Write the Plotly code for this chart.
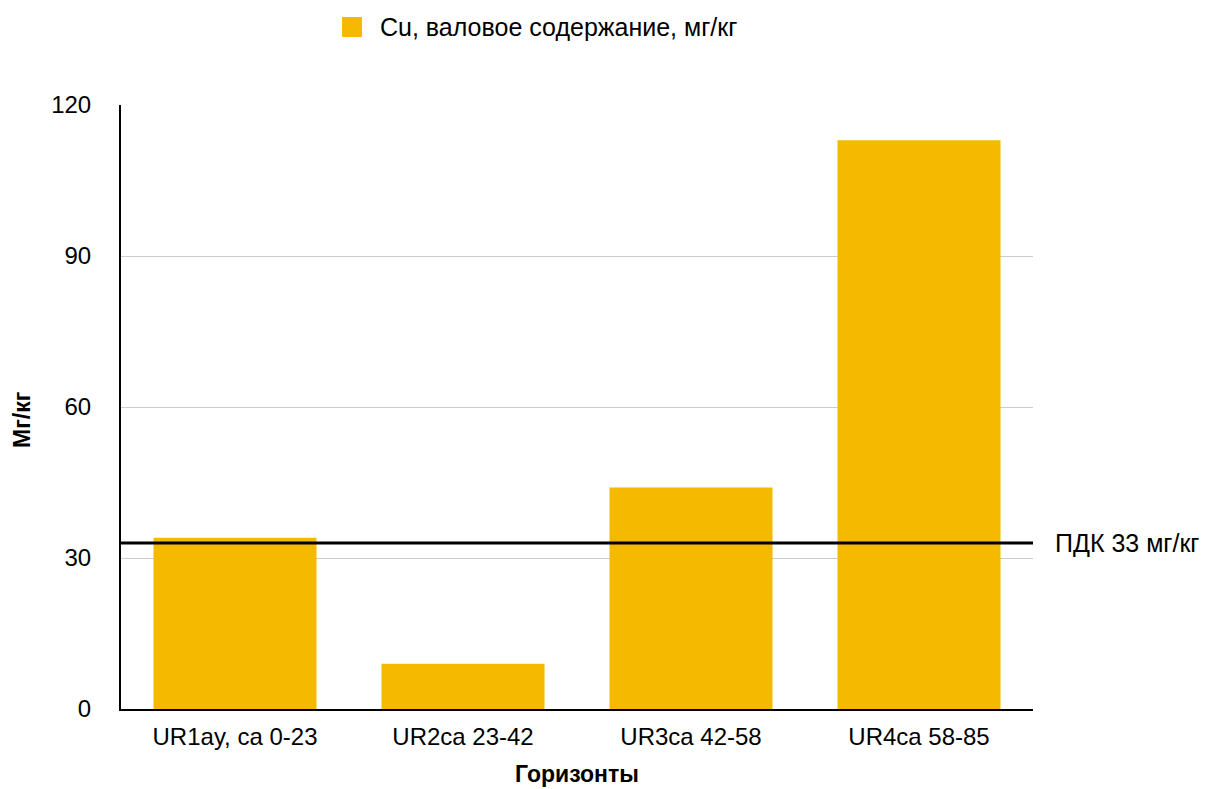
import plotly.graph_objects as go

# Горизонты почвенного профиля и валовое содержание меди
horizons = ["UR1ay, ca 0-23", "UR2ca 23-42", "UR3ca 42-58", "UR4ca 58-85"]
cu_values = [34, 9, 44, 113]
pdk_value = 33
y_ticks = [0, 30, 60, 90, 120]
series_name = "Cu, валовое содержание, мг/кг"
x_title = "Горизонты"
y_title = "Мг/кг"

FONT = "Liberation Sans, Arial, Helvetica, sans-serif"
BAR_COLOR = "#F5BA00"

fig = go.Figure()
fig.add_trace(go.Bar(
    x=horizons,
    y=cu_values,
    name=series_name,
    showlegend=False,
    marker=dict(color=BAR_COLOR, line=dict(width=0)),
))

# Линия ПДК через всю ширину области построения
fig.add_shape(
    type="line", xref="paper", yref="y",
    x0=0, x1=1, y0=pdk_value, y1=pdk_value,
    line=dict(color="black", width=3),
)
fig.add_annotation(
    xref="paper", yref="y", x=1.022, y=pdk_value,
    text=f"ПДК {pdk_value} мг/кг", showarrow=False,
    xanchor="left", yanchor="middle",
    font=dict(family=FONT, size=25, color="black"),
)

# Легенда: цветной квадрат и подпись над графиком
fig.add_shape(
    type="rect", xref="paper", yref="paper",
    x0=0.2423, x1=0.2643, y0=1.1126, y1=1.1457,
    line=dict(width=0), fillcolor=BAR_COLOR,
)
fig.add_annotation(
    xref="paper", yref="paper", x=0.282, y=1.1295,
    text=series_name, showarrow=False,
    xanchor="left", yanchor="middle",
    font=dict(family=FONT, size=25, color="black"),
)

# Подписи осей
fig.add_annotation(
    xref="paper", yref="paper", x=0.5, y=-0.1076,
    text=f"<b>{x_title}</b>", showarrow=False,
    xanchor="center", yanchor="middle",
    font=dict(family=FONT, size=23, color="black"),
)
fig.add_annotation(
    xref="paper", yref="paper", x=-0.1086, y=0.4785,
    text=f"<b>{y_title}</b>", showarrow=False, textangle=-90,
    xanchor="center", yanchor="middle",
    font=dict(family=FONT, size=23, color="black"),
)

fig.update_layout(
    width=1209, height=789,
    margin=dict(l=121, r=176, t=105, b=80),
    paper_bgcolor="white", plot_bgcolor="white",
    font=dict(family=FONT, size=24, color="black"),
    bargap=0.285,
    showlegend=False,
    xaxis=dict(
        automargin=False,
        showline=True, linecolor="black", linewidth=2,
        showgrid=False, ticks="", ticklabelstandoff=5,
        tickfont=dict(size=24),
    ),
    yaxis=dict(
        automargin=False,
        range=[0, 120], tickvals=y_ticks,
        showline=True, linecolor="black", linewidth=2,
        showgrid=True, gridcolor="#cccccc", gridwidth=1,
        zeroline=False, ticks="", ticklabelstandoff=23,
        tickfont=dict(size=24),
    ),
)

fig.write_html("out.html")
